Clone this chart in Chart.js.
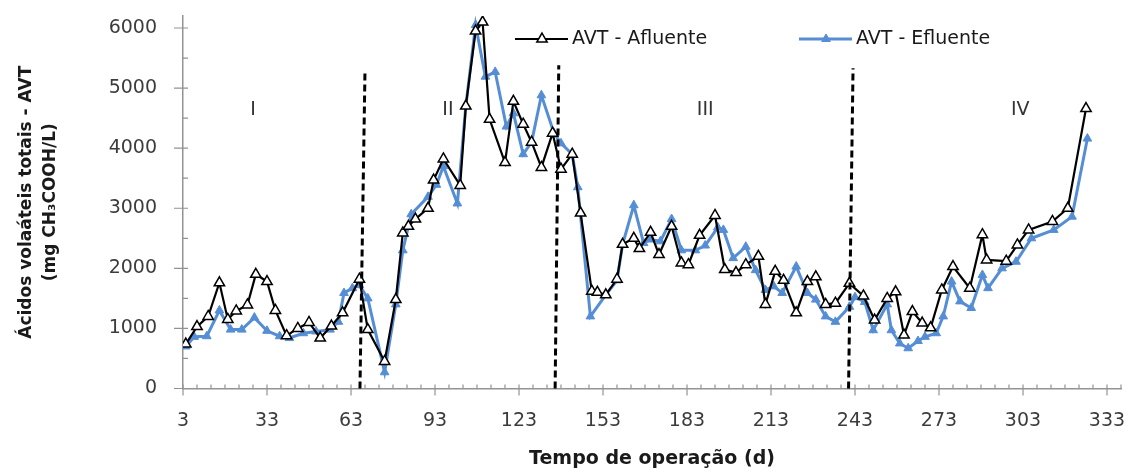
<!DOCTYPE html>
<html>
<head>
<meta charset="utf-8">
<script src="https://cdn.jsdelivr.net/npm/chart.js@4/dist/chart.umd.min.js"></script>
<style>
  body { margin: 0; background: #fff; }
  canvas { display: block; }
</style>
</head>
<body>
<canvas id="avt" width="1129" height="472"></canvas>
<script>
// Afluente (black, open triangles)
const aflDays = [4, 8, 12, 16, 19, 22, 26, 29, 33, 36, 40, 44, 48, 52, 56, 60, 66, 69,
    75, 79, 81.5, 83.5, 86, 90.5, 92.5, 96, 102, 104, 107.5, 110, 112.5, 118, 121, 124.5, 127.5, 131, 135,
    138, 142, 145, 149, 151, 154, 158, 160, 164, 166, 170, 173, 177.5, 181, 183.5, 187.5, 193, 196.5, 200.5, 204, 208.5, 211, 214.5, 217.5, 222, 226, 229, 232.5, 236, 241,
    246, 250, 254.5, 257.5, 260.5, 263.5, 267, 270, 274, 278, 284, 288.5, 290, 297, 301, 305, 313.5, 319, 325.5];
const aflValues = [740, 1030, 1200, 1760, 1150, 1290, 1390, 1900, 1780, 1300, 880, 1000, 1100, 840, 1040, 1260, 1820, 980,
    450, 1480, 2590, 2700, 2820, 3000, 3470, 3820, 3380, 4700, 5950, 6100, 4480, 3760, 4780, 4400, 4100, 3680, 4250,
    3650, 3900, 2920, 1620, 1600, 1560, 1820, 2400, 2500, 2330, 2600, 2230, 2700, 2090, 2060, 2550, 2880, 1980, 1930, 2060, 2200, 1400, 1950, 1800, 1260, 1780, 1860, 1400, 1420, 1750,
    1540, 1140, 1500, 1610, 890, 1280, 1090, 1010, 1640, 2030, 1670, 2560, 2140, 2120, 2390, 2640, 2780, 3000, 4660];

// Efluente (blue, filled triangles)
const eflDays = [4, 7, 11.5, 16, 20, 24, 28.5, 33, 37.5, 41, 46, 50.5, 55.5, 58.5, 60.5, 63.5, 66, 69,
    75, 79, 81.5, 84.5, 90.5, 93.5, 96, 101, 104, 107.5, 111, 114.5, 118.5, 121, 124.5, 127.5, 131, 135.5,
    138, 142, 144, 148.5, 154, 158, 160, 164, 167.5, 170, 173.5, 177.5, 181, 186, 189.5, 194, 196, 199.5, 204, 207.5, 211, 214, 217, 222, 226, 229, 232.5, 236, 241,
    243, 246.5, 249.5, 254.5, 256, 259, 262, 265.5, 268, 272, 274.5, 277.5, 280.5, 284.5, 288.5, 290.5, 295.5, 300.5, 306, 314, 320.5, 326];
const eflValues = [700, 860, 870, 1300, 980, 980, 1180, 960, 870, 840, 920, 950, 980, 1110, 1590, 1670, 1720, 1500,
    270, 1400, 2300, 2900, 3190, 3390, 3700, 3080, 4700, 6050, 5190, 5270, 4360, 4580, 3900, 4100, 4880, 4250,
    4080, 3900, 3350, 1200, 1560, 1800, 2400, 3050, 2420, 2480, 2450, 2820, 2300, 2300, 2380, 2680, 2640, 2170, 2360, 1970, 1640, 1700, 1590, 2030, 1590, 1480, 1200, 1110, 1360,
    1520, 1440, 970, 1400, 970, 750, 670, 790, 860, 920, 1200, 1780, 1450, 1340, 1890, 1670, 2000, 2110, 2500, 2640, 2860, 4160];

const xTicks = [3, 33, 63, 93, 123, 153, 183, 213, 243, 273, 303, 333];
const yTicks = [0, 1000, 2000, 3000, 4000, 5000, 6000];

// phase boundaries: [day at bottom, day at top, top value]
const phaseBounds = [[66.2, 68, 5300], [135.9, 137.2, 5380], [240.7, 242.3, 5330]];
const phaseNames = ['I', 'II', 'III', 'IV'];
const phaseLabelDays = [28, 97.6, 189.5, 302];
const phaseLabelValue = 4640;

const FONT = 'DejaVu Sans';
const BLUE = '#558ed5';
const AXIS = '#939393';

const toPoints = (xs, ys) => xs.map((x, i) => ({ x: x, y: ys[i] }));

// axis tick marks: major ticks cross the axis, minor ticks point inward
const axisMarks = {
    id: 'axisMarks',
    afterDraw(chart) {
        const { ctx, chartArea, scales: { x, y } } = chart;
        ctx.save();
        ctx.strokeStyle = AXIS;
        ctx.lineWidth = 1.2;
        ctx.beginPath();
        for (let d = 3; d <= x.max; d += 5) {
            const px = x.getPixelForValue(d);
            const major = xTicks.includes(d);
            ctx.moveTo(px, chartArea.bottom - 4);
            ctx.lineTo(px, chartArea.bottom + (major ? 7 : 0));
        }
        for (let v = 0; v <= 6000; v += 500) {
            const py = y.getPixelForValue(v);
            const major = yTicks.includes(v);
            ctx.moveTo(chartArea.left - (major ? 9 : 0), py);
            ctx.lineTo(chartArea.left + 5, py);
        }
        ctx.stroke();
        ctx.restore();
    }
};

// dashed phase separators and phase names
const phases = {
    id: 'phases',
    afterDatasetsDraw(chart) {
        const { ctx, scales: { x, y } } = chart;
        ctx.save();
        ctx.strokeStyle = '#000';
        ctx.lineWidth = 3;
        ctx.setLineDash([7, 4]);
        phaseBounds.forEach(b => {
            ctx.beginPath();
            ctx.moveTo(x.getPixelForValue(b[0]), y.getPixelForValue(0));
            ctx.lineTo(x.getPixelForValue(b[1]), y.getPixelForValue(b[2]));
            ctx.stroke();
        });
        ctx.setLineDash([]);
        ctx.fillStyle = '#333';
        ctx.font = '19px "' + FONT + '"';
        ctx.textAlign = 'center';
        ctx.textBaseline = 'middle';
        phaseNames.forEach((n, i) => {
            ctx.fillText(n, x.getPixelForValue(phaseLabelDays[i]), y.getPixelForValue(phaseLabelValue));
        });
        ctx.restore();
    }
};

// legend drawn inside the plot, near the top
const innerLegend = {
    id: 'innerLegend',
    afterDraw(chart) {
        const { ctx } = chart;
        const items = [{ ds: 0, x: 515 }, { ds: 1, x: 799 }];
        const ly = 39;
        ctx.save();
        items.forEach(it => {
            const ds = chart.data.datasets[it.ds];
            ctx.strokeStyle = ds.borderColor;
            ctx.lineWidth = ds.borderWidth;
            ctx.beginPath();
            ctx.moveTo(it.x, ly);
            ctx.lineTo(it.x + 53, ly);
            ctx.stroke();
            ctx.fillStyle = ds.pointBackgroundColor;
            ctx.strokeStyle = ds.pointBorderColor;
            ctx.lineWidth = ds.pointBorderWidth;
            Chart.helpers.drawPoint(ctx, { pointStyle: 'triangle', radius: ds.pointRadius, borderWidth: ds.pointBorderWidth, rotation: 0 }, it.x + 27, ly);
            ctx.fillStyle = '#1a1a1a';
            ctx.font = '19px "' + FONT + '"';
            ctx.textAlign = 'left';
            ctx.textBaseline = 'middle';
            ctx.fillText(ds.label, it.x + 57, ly);
        });
        ctx.restore();
    }
};

new Chart(document.getElementById('avt'), {
    type: 'line',
    data: {
        datasets: [
            {
                label: 'AVT - Afluente',
                data: toPoints(aflDays, aflValues),
                borderColor: '#000',
                borderWidth: 2.2,
                pointStyle: 'triangle',
                pointRadius: 6,
                pointBackgroundColor: '#fff',
                pointBorderColor: '#000',
                pointBorderWidth: 1.5,
                tension: 0
            },
            {
                label: 'AVT - Efluente',
                data: toPoints(eflDays, eflValues),
                borderColor: BLUE,
                borderWidth: 3,
                pointStyle: 'triangle',
                pointRadius: 5,
                pointBackgroundColor: BLUE,
                pointBorderColor: BLUE,
                pointBorderWidth: 1,
                tension: 0
            }
        ]
    },
    options: {
        responsive: false,
        animation: false,
        layout: { padding: { top: 16, right: 8, left: 0, bottom: 0 } },
        plugins: { legend: { display: false }, tooltip: { enabled: false } },
        scales: {
            x: {
                type: 'linear',
                min: 3,
                max: 338,
                // tick marks are drawn by axisMarks; tickLength only spaces the labels
                grid: { display: false, drawTicks: true, tickLength: 21 },
                border: { display: true, color: AXIS, width: 1.5 },
                afterBuildTicks: s => { s.ticks = xTicks.map(v => ({ value: v })); },
                afterFit: s => { s.height = 83.5; },
                ticks: { padding: 0, color: '#3c3c3c', font: { family: FONT, size: 19 }, maxRotation: 0, autoSkip: false },
                title: {
                    display: true,
                    text: 'Tempo de operação (d)',
                    color: '#1a1a1a',
                    font: { family: FONT, size: 19, weight: 'bold' },
                    padding: { top: 0, bottom: 2 }
                }
            },
            y: {
                min: 0,
                max: 6200,
                grid: { display: false, drawTicks: true, tickLength: 26 },
                border: { display: true, color: AXIS, width: 1.5 },
                afterBuildTicks: s => { s.ticks = yTicks.map(v => ({ value: v })); },
                afterFit: s => { s.width = 183; },
                ticks: { padding: 0, color: '#3c3c3c', font: { family: FONT, size: 19 }, callback: v => String(v) },
                title: {
                    display: true,
                    text: ['Ácidos volaáteis totais - AVT', '(mg CH₃COOH/L)'],
                    color: '#1a1a1a',
                    font: { family: FONT, size: 17, weight: 'bold', lineHeight: 1.4 },
                    padding: { top: 15, bottom: 0 }
                }
            }
        }
    },
    plugins: [axisMarks, phases, innerLegend]
});
</script>
</body>
</html>
